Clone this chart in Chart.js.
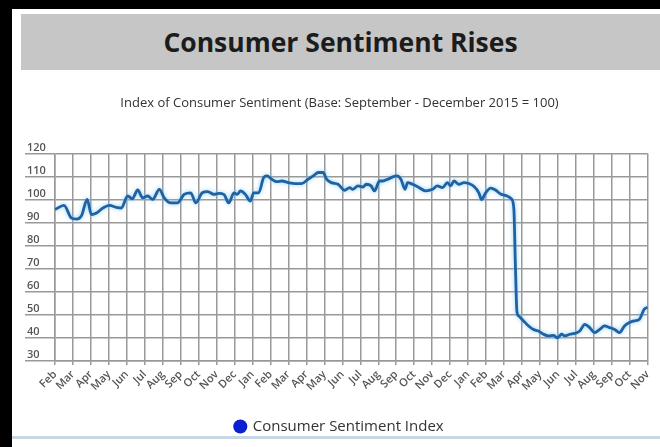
<!DOCTYPE html>
<html>
<head>
<meta charset="utf-8">
<script src="https://cdn.jsdelivr.net/npm/chart.js@4.4.1/dist/chart.umd.min.js"></script>
<style>
  html, body { margin: 0; padding: 0; background: #fff; }
  body { width: 660px; height: 447px; position: relative; overflow: hidden; font-family: "Open Sans", sans-serif; }
  .edge-top { position: absolute; left: 0; top: 0; width: 660px; height: 9px; background: #000; }
  .edge-left { position: absolute; left: 0; top: 0; width: 12px; height: 447px; background: #000; }
  .banner { position: absolute; left: 21px; top: 14px; width: 639px; height: 56px; background: #c6c6c6;
            display: flex; align-items: center; justify-content: center;
            font-weight: 700; font-size: 26.5px; color: #1c1c1c; }
  .rule { position: absolute; left: 12px; top: 436px; width: 648px; height: 3px; background: #c8d5e2; }
  #wrap { position: absolute; left: 12px; top: 76px; width: 648px; height: 372px; }
</style>
</head>
<body>
<div class="edge-top"></div>
<div class="edge-left"></div>
<div class="banner">Consumer Sentiment Rises</div>
<div id="wrap"><canvas id="chart" width="648" height="372"></canvas></div>
<div class="rule"></div>
<script>
// Month tick labels (one per gridline)
const monthLabels = [
  "Feb","Mar","Apr","May","Jun","Jul","Aug","Sep","Oct","Nov","Dec",
  "Jan","Feb","Mar","Apr","May","Jun","Jul","Aug","Sep","Oct","Nov","Dec",
  "Jan","Feb","Mar","Apr","May","Jun","Jul","Aug","Sep","Oct","Nov"
];

// Position of each reading, in months from the first tick
const monthPos = [
  0.00, 0.50, 0.92, 1.20, 1.48, 1.79, 2.03, 2.31, 2.67, 3.04, 3.41, 3.69,
  4.05, 4.30, 4.61, 4.88, 5.16, 5.44, 5.81, 6.08, 6.45, 6.82, 7.19, 7.56,
  7.84, 8.20, 8.50, 8.85, 9.13, 9.40, 9.68, 9.96, 10.14, 10.33, 10.60, 10.88,
  11.06, 11.34, 11.62, 11.80, 12.07, 12.35, 12.63, 13.00, 13.37, 13.73, 14.10, 14.38,
  14.66, 14.93, 15.12, 15.39, 15.76, 16.13, 16.41, 16.59, 16.87, 17.15, 17.33, 17.60,
  17.79, 18.07, 18.25, 18.53, 18.81, 19.04, 19.26, 19.49, 19.63, 19.91, 20.28, 20.65,
  21.02, 21.29, 21.57, 21.85, 22.03, 22.22, 22.49, 22.77, 23.05, 23.32, 23.60, 23.75,
  23.98, 24.26, 24.53, 24.81, 25.17, 25.42, 25.55, 25.63, 25.72, 25.81, 26.09, 26.37,
  26.64, 26.92, 27.20, 27.47, 27.75, 27.97, 28.21, 28.39, 28.67, 28.94, 29.22, 29.50,
  29.77, 30.05, 30.33, 30.60, 30.88, 31.16, 31.43, 31.71, 31.99, 32.26, 32.54, 32.81,
  33.00
];

// Index of Consumer Sentiment readings
const sentiment = [
  95.7, 97.5, 92.0, 91.6, 93.1, 100.1, 93.5, 94.2, 96.4, 97.5, 96.7, 96.4,
  101.6, 100.4, 104.2, 100.8, 101.6, 100.1, 104.5, 100.8, 98.6, 98.6, 102.3, 103.0,
  98.6, 103.0, 103.5, 102.3, 102.7, 102.3, 98.6, 103.0, 102.3, 103.8, 102.3, 99.4,
  103.0, 103.0, 109.6, 110.3, 108.9, 107.8, 108.1, 107.4, 107.0, 107.0, 108.9, 110.3,
  111.8, 111.8, 108.9, 107.4, 106.7, 104.1, 105.2, 104.5, 106.0, 105.5, 106.7, 106.0,
  103.8, 108.1, 108.1, 108.9, 109.9, 110.3, 108.9, 104.5, 107.4, 106.7, 105.2, 103.8,
  104.5, 106.0, 105.2, 107.4, 106.0, 108.1, 106.7, 107.4, 107.0, 105.8, 103.0, 100.0,
  103.0, 105.0, 104.2, 102.5, 101.6, 100.3, 96.0, 73.0, 51.5, 49.6, 47.4, 45.2,
  43.7, 43.0, 41.6, 40.9, 41.1, 40.1, 41.6, 40.9, 41.6, 42.0, 43.0, 45.9,
  44.5, 42.3, 43.7, 45.2, 44.5, 43.7, 42.3, 45.2, 46.7, 47.4, 48.1, 52.5,
  53.3
];

// Y axis range and step
const yMin = 30, yMax = 120, yStep = 10;

// Soft halo around the index line
const lineGlow = {
  id: 'lineGlow',
  beforeDatasetDraw(chart) {
    const c = chart.ctx;
    c.save();
    c.shadowColor = 'rgba(120, 195, 240, 0.85)';
    c.shadowBlur = 4;
  },
  afterDatasetDraw(chart) { chart.ctx.restore(); }
};

const gridGrey = '#999999';

new Chart(document.getElementById('chart'), {
  type: 'line',
  data: {
    datasets: [{
      label: 'Consumer Sentiment Index',
      data: monthPos.map((x, i) => ({ x: x, y: sentiment[i] })),
      borderColor: '#1f62a4',
      backgroundColor: '#0a1fd4',
      borderWidth: 2.8,
      pointRadius: 0,
      cubicInterpolationMode: 'monotone',
      fill: false
    }]
  },
  options: {
    responsive: false,
    animation: false,
    layout: { padding: { left: 15, right: 8, top: 0, bottom: 4 } },
    plugins: {
      title: {
        display: true,
        text: 'Index of Consumer Sentiment (Base: September - December 2015 = 100)',
        color: '#333',
        font: { family: 'Open Sans', size: 13, weight: 'normal' },
        padding: { top: 19, bottom: 43 }
      },
      legend: {
        position: 'bottom',
        labels: {
          usePointStyle: true,
          pointStyle: 'circle',
          boxWidth: 10,
          boxHeight: 10,
          color: '#333',
          font: { family: 'Open Sans', size: 15 },
          padding: 10,
          generateLabels(chart) {
            const items = Chart.defaults.plugins.legend.labels.generateLabels(chart);
            items.forEach(it => { it.strokeStyle = it.fillStyle; it.lineWidth = 0; });
            return items;
          }
        }
      },
      tooltip: { enabled: false }
    },
    scales: {
      x: {
        type: 'linear',
        min: 0,
        max: monthLabels.length - 1,
        ticks: {
          stepSize: 1,
          autoSkip: false,
          maxRotation: 45,
          minRotation: 45,
          color: '#555',
          font: { family: 'Open Sans', size: 11, weight: '600' },
          callback: (v) => monthLabels[v]
        },
        grid: { color: gridGrey, lineWidth: 1.5, tickLength: 4 },
        border: { color: gridGrey, width: 1.5 },
        afterFit(scale) { scale.height = 48; }
      },
      y: {
        min: yMin,
        max: yMax,
        ticks: {
          stepSize: yStep,
          crossAlign: 'far',
          labelOffset: -6,
          color: '#555',
          font: { family: 'Open Sans', size: 11, weight: '600' }
        },
        grid: { color: gridGrey, lineWidth: 1.5, tickLength: 30 },
        border: { color: gridGrey, width: 1.5 },
        afterFit(scale) { scale.width = 28; }
      }
    }
  },
  plugins: [lineGlow]
});
</script>
</body>
</html>
